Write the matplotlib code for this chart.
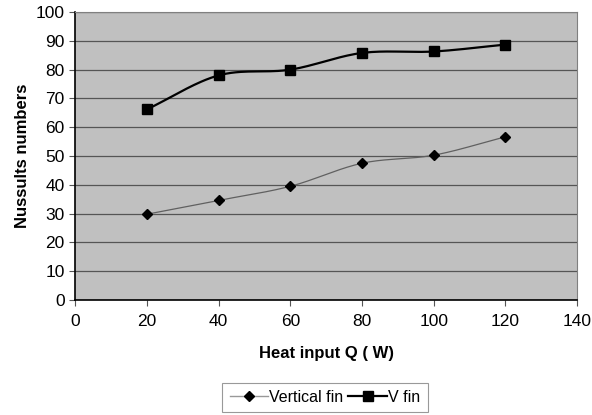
import numpy as np
import matplotlib
matplotlib.use("Agg")
import matplotlib.pyplot as plt
from matplotlib.lines import Line2D

plt.rcParams['font.family'] = ['Liberation Sans', 'DejaVu Sans']

# data
heat_input = [20, 40, 60, 80, 100, 120]
vertical_fin = [29.8, 34.6, 39.5, 47.5, 50.3, 56.7]
v_fin = [66.2, 78.0, 80.0, 85.8, 86.3, 88.7]


def smooth(x, y, n=30):
    # Catmull-Rom curve through the points, like Excel's smoothed line
    x = np.asarray(x, float)
    y = np.asarray(y, float)
    px = np.concatenate([[2 * x[0] - x[1]], x, [2 * x[-1] - x[-2]]])
    py = np.concatenate([[2 * y[0] - y[1]], y, [2 * y[-1] - y[-2]]])
    xs, ys = [], []
    t = np.linspace(0, 1, n)
    for i in range(1, len(px) - 2):
        for p, out in ((px, xs), (py, ys)):
            p0, p1, p2, p3 = p[i - 1], p[i], p[i + 1], p[i + 2]
            out.append(0.5 * (2 * p1 + (-p0 + p2) * t
                              + (2 * p0 - 5 * p1 + 4 * p2 - p3) * t ** 2
                              + (-p0 + 3 * p1 - 3 * p2 + p3) * t ** 3))
    return np.concatenate(xs), np.concatenate(ys)


fig = plt.figure(figsize=(5.92, 4.15), dpi=100)
ax = fig.add_axes([0.127, 0.277, 0.848, 0.694])
ax.set_facecolor('#c0c0c0')

sx, sy = smooth(heat_input, vertical_fin)
ax.plot(sx, sy, color='#606060', lw=0.9)
ax.plot(heat_input, vertical_fin, ls='none', marker='D', ms=5, color='black')

sx, sy = smooth(heat_input, v_fin)
ax.plot(sx, sy, color='black', lw=1.6)
ax.plot(heat_input, v_fin, ls='none', marker='s', ms=7, color='black')

ax.set_xlim(0, 140)
ax.set_ylim(0, 100)
ax.set_xticks(range(0, 141, 20))
ax.set_yticks(range(0, 101, 10))
ax.grid(axis='y', color='#555555', lw=0.9)
ax.set_axisbelow(True)
ax.tick_params(labelsize=12.5, length=4, direction='out', color='#555555')
ax.tick_params(axis='x', pad=6)

for s in ['top', 'right']:
    ax.spines[s].set_color('#808080')
for s in ['left', 'bottom']:
    ax.spines[s].set_color('black')
    ax.spines[s].set_linewidth(1.2)

ax.set_xlabel('Heat input Q ( W)', fontsize=12, fontweight='bold', labelpad=12)
ax.set_ylabel('Nussults numbers', fontsize=12, fontweight='bold', labelpad=4)

handles = [
    Line2D([], [], color='#999999', lw=1, marker='D', ms=5, mfc='black', mec='black'),
    Line2D([], [], color='black', lw=1.6, marker='s', ms=7, mfc='black', mec='black'),
]
leg = fig.legend(handles, ['Vertical fin', 'V fin'], loc='lower center',
                 bbox_to_anchor=(0.549, -0.012), ncol=2, fontsize=11.5,
                 frameon=True, fancybox=False, handlelength=2.4,
                 handletextpad=0.1, columnspacing=0.3, borderpad=0.45)
leg.get_frame().set_edgecolor('#808080')
leg.get_frame().set_linewidth(0.8)

fig.savefig('out.png', dpi=100)
